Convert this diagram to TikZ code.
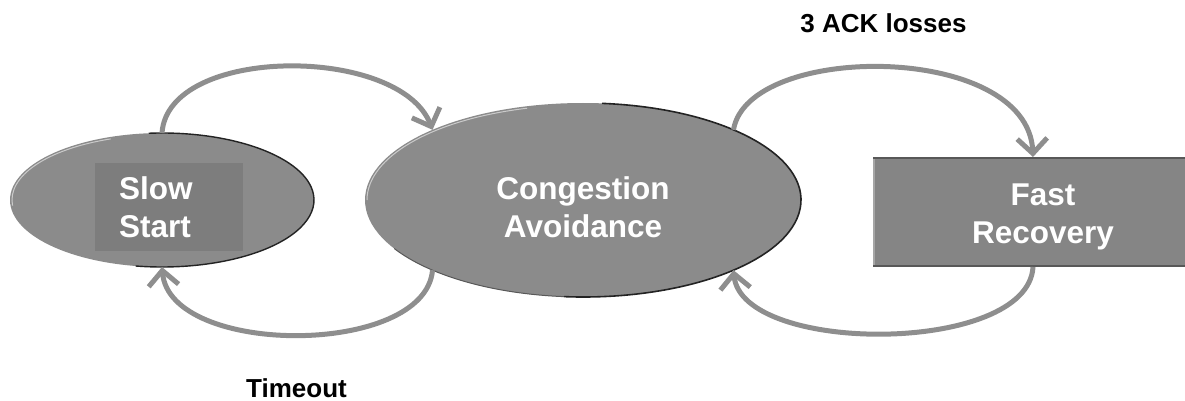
\documentclass[tikz,border=0pt]{standalone}
\usepackage{fontspec}
\setmainfont{Liberation Sans}
\usetikzlibrary{arrows.meta,shapes.geometric}
\definecolor{shapefill}{RGB}{139,139,139}
\definecolor{boxfill}{RGB}{125,125,125}
\definecolor{rectfill}{RGB}{133,133,133}
\definecolor{flowgray}{RGB}{142,142,142}
\definecolor{edgedark}{RGB}{35,35,35}
\definecolor{rimdark}{RGB}{88,88,88}
\begin{document}
\begin{tikzpicture}[x=1pt,y=-1pt,
  state/.style={ellipse, fill=shapefill, inner sep=0pt, outer sep=0pt},
  nodetext/.style={text=white, font=\fontsize{31.5}{38.5}\selectfont\bfseries, align=center, inner sep=0pt},
  flow/.style={draw=flowgray, line width=5pt, -{Straight Barb[length=15pt,width=30pt]}},
  caption/.style={font=\fontsize{26}{30}\selectfont\bfseries, anchor=base, inner sep=0pt}]
\path[use as bounding box] (0,0) rectangle (1185,401);
\clip (0,0) rectangle (1185,401);

% states
\node[state, minimum width=304pt, minimum height=134pt] (ss) at (162,200) {};
\node[state, minimum width=436pt, minimum height=194pt] (ca) at (583,200) {};
\node[rectangle, fill=rectfill, minimum width=340pt, minimum height=110pt, inner sep=0pt, outer sep=0pt] (fr) at (1043,212) {};

% rim shading of the ellipses
\draw[edgedark, line width=1.4pt] (ss.center) ++(95:152pt and 67pt)
  arc[start angle=95, end angle=-100, x radius=152pt, y radius=67pt];
\draw[white, opacity=.55, line width=1pt] (ss.center) ++(110:150pt and 65pt)
  arc[start angle=110, end angle=185, x radius=150pt, y radius=65pt];
\draw[edgedark, line width=1.6pt] (ca.center) ++(85:218pt and 97pt)
  arc[start angle=85, end angle=-95, x radius=218pt, y radius=97pt];
\draw[rimdark, line width=1pt] (ca.center) ++(-95:218pt and 97pt)
  arc[start angle=-95, end angle=-150, x radius=218pt, y radius=97pt];
\draw[white, opacity=.55, line width=1pt] (ca.center) ++(105:216pt and 95pt)
  arc[start angle=105, end angle=180, x radius=216pt, y radius=95pt];

% rim of the rectangle
\draw[rimdark, line width=2pt] ([yshift=-1pt]fr.north west) -- ([yshift=-1pt]fr.north east);
\draw[rimdark, line width=2pt] ([yshift=1pt]fr.south west) -- ([yshift=1pt]fr.south east);
\draw[gray!70, line width=1.5pt] ([xshift=0.75pt,yshift=-2pt]fr.north west) -- ([xshift=0.75pt,yshift=2pt]fr.south west);

% labels inside the states
\node[nodetext, fill=boxfill, minimum width=148pt, minimum height=88pt, inner xsep=24pt, text width=100pt, align=left] (ssbox) at (169,207) {Slow\\Start};
\node[nodetext] (catext) at (583,207) {Congestion\\Avoidance};
\node[nodetext] (frtext) at (1043,217) {Fast\\Recovery};

% transitions
\draw[flow] (ss.north) .. controls (168,45) and (400,45) .. (ca.155);
\draw[flow] (ca.-155) .. controls (425,357) and (170,357) .. (ss.south);
\draw[flow] (ca.25) .. controls (748,42) and (1028,42) .. ([xshift=-10pt]fr.north);
\draw[flow] ([xshift=-10pt]fr.south) .. controls (1028,355) and (742,355) .. (ca.-25);

% transition captions
\node[caption] (ack) at (883.5,33) {3 ACK losses};
\node[caption] (tmo) at (296.5,397) {Timeout};
\end{tikzpicture}
\end{document}
